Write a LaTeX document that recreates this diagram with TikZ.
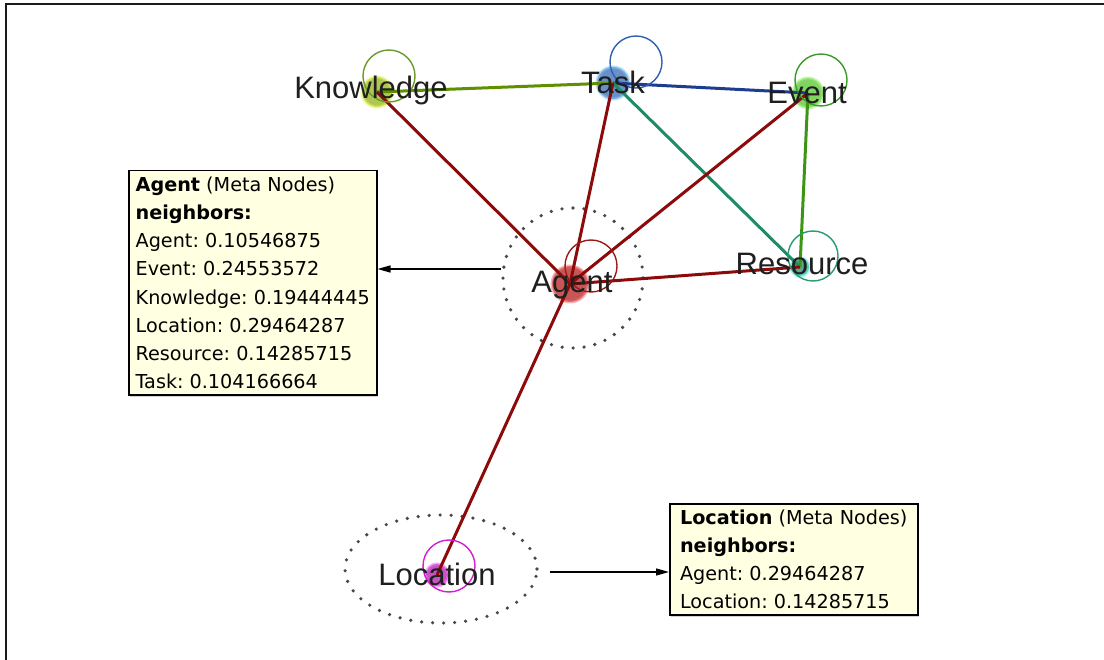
\documentclass[tikz,border=0pt]{standalone}
\usepackage{fontspec}
\setmainfont{Liberation Sans}
\newfontfamily\tipfont{DejaVu Sans}
\usepackage{tikz}
\usetikzlibrary{arrows.meta,calc,positioning,shapes.geometric,shadows}
\definecolor{MetaFrame}{HTML}{1A1A1A}
\definecolor{MetaRed}{HTML}{8C0A0A}
\definecolor{MetaOlive}{HTML}{5E9000}
\definecolor{MetaBlue}{HTML}{1E3C90}
\definecolor{MetaTeal}{HTML}{1E8C64}
\definecolor{MetaGreen}{HTML}{3C9614}
\definecolor{KnowFill}{HTML}{A8C040}
\definecolor{KnowGlow}{HTML}{E4F45C}
\definecolor{KnowLoop}{HTML}{6A9A2A}
\definecolor{TaskFill}{HTML}{5A84C4}
\definecolor{TaskGlow}{HTML}{7EC4F4}
\definecolor{TaskLoop}{HTML}{2F5FAF}
\definecolor{EventFill}{HTML}{74D050}
\definecolor{EventGlow}{HTML}{A4F484}
\definecolor{EventLoop}{HTML}{3A9A2A}
\definecolor{AgentFill}{HTML}{C44444}
\definecolor{AgentGlow}{HTML}{F07C7C}
\definecolor{AgentLoop}{HTML}{9A1A1A}
\definecolor{ResFill}{HTML}{4E9C84}
\definecolor{ResGlow}{HTML}{5CF0E0}
\definecolor{ResLoop}{HTML}{2A9A70}
\definecolor{LocFill}{HTML}{C040C0}
\definecolor{LocGlow}{HTML}{F060F0}
\definecolor{LocLoop}{HTML}{D020D0}
\definecolor{TipYellow}{HTML}{FFFFE1}

\begin{document}
\begin{tikzpicture}[x=1pt,y=-1pt,
    dot/.style={circle,inner sep=0pt,line width=3pt,draw opacity=.55,fill opacity=.9},
    word/.style={anchor=base,text=black!88,font=\fontsize{31}{31}\selectfont},
    link/.style={line width=3pt},
    selfloop/.style={line width=1.4pt},
    halo/.style={draw=black!72,line width=3.6pt,dash pattern=on 0pt off 11pt,line cap=round,inner sep=0pt},
    tip/.style={draw=black,line width=1.5pt,fill=TipYellow,anchor=north west,align=left,
      minimum width=248pt,inner xsep=4pt,inner ysep=6pt,
      drop shadow={shadow xshift=1.5pt,shadow yshift=-1.5pt,opacity=.35},
      font=\tipfont\fontsize{19.2}{28.2}\selectfont\frenchspacing},
    pointer/.style={line width=1.4pt,-{Triangle[length=13pt,width=7pt]}}]
  \useasboundingbox (0,0) rectangle (1104,660);
  \fill[white] (0,0) rectangle (1104,660);
  \draw[MetaFrame,line width=2pt] (1104,4) -| (6,660);

  \node[halo,circle,minimum size=140pt] (aghalo) at (573,278) {};
  \node[halo,ellipse,minimum width=192pt,minimum height=108pt] (lochalo) at (441,569) {};

  \node[dot,minimum size=30pt,fill=KnowFill,draw=KnowGlow] (kn) at (377,92) {};
  \node[dot,minimum size=32pt,fill=TaskFill,draw=TaskGlow] (task) at (613,83) {};
  \node[dot,minimum size=30pt,fill=EventFill,draw=EventGlow] (ev) at (808,93) {};
  \node[dot,minimum size=36pt,fill=AgentFill,draw=AgentGlow] (ag) at (570,284) {};
  \node[dot,minimum size=18pt,fill=ResFill,draw=ResGlow] (res) at (800,267) {};
  \node[dot,minimum size=22pt,fill=LocFill,draw=LocGlow] (loc) at (437,575) {};

  \draw[link,MetaOlive] (kn.center) -- (task.center);
  \draw[link,MetaBlue] (task.center) -- (ev.center);
  \draw[link,MetaTeal] (task.center) -- (res.center);
  \draw[link,MetaGreen] (ev.center) -- (res.center);
  \draw[link,MetaRed] (ag.center) -- (kn.center);
  \draw[link,MetaRed] (ag.center) -- (task.center);
  \draw[link,MetaRed] (ag.center) -- (ev.center);
  \draw[link,MetaRed] (ag.center) -- (res.center);
  \draw[link,MetaRed] (ag.center) -- (loc.center);

  \draw[selfloop,KnowLoop] ($(kn)+(12,-16)$) circle[radius=26pt];
  \draw[selfloop,TaskLoop] ($(task)+(23,-21)$) circle[radius=26pt];
  \draw[selfloop,EventLoop] ($(ev)+(13,-13)$) circle[radius=26pt];
  \draw[selfloop,AgentLoop] ($(ag)+(21,-18)$) circle[radius=26pt];
  \draw[selfloop,ResLoop] ($(res)+(13,-11)$) circle[radius=25pt];
  \draw[selfloop,LocLoop] ($(loc)+(12,-9)$) circle[radius=26pt];

  \node[word] (knword) at (371,99) {Knowledge};
  \node[word] (taskword) at (613,94) {Task};
  \node[word] (evword) at (807,104) {Event};
  \node[word] (agword) at (572,293) {Agent};
  \node[word] (resword) at (802,275) {Resource};
  \node[word] (locword) at (437,585) {Location};

  \node[tip] (agtip) at (128,170) {\textbf{Agent} (Meta Nodes)\\\textbf{neighbors:}\\Agent: 0.10546875\\Event: 0.24553572\\Knowledge: 0.19444445\\Location: 0.29464287\\Resource: 0.14285715\\Task: 0.104166664};
  \node[tip] (loctip) at (669,503) {\textbf{Location} (Meta Nodes)\\\textbf{neighbors:}\\Agent: 0.29464287\\Location: 0.14285715};

  \coordinate (agfrom) at ([yshift=9pt]aghalo.west);
  \draw[pointer] (agfrom) -- (agfrom -| agtip.east);
  \coordinate (locfrom) at ([shift={(11pt,-3pt)}]lochalo.east);
  \draw[pointer] (locfrom) -- (locfrom -| loctip.west);
\end{tikzpicture}
\end{document}
